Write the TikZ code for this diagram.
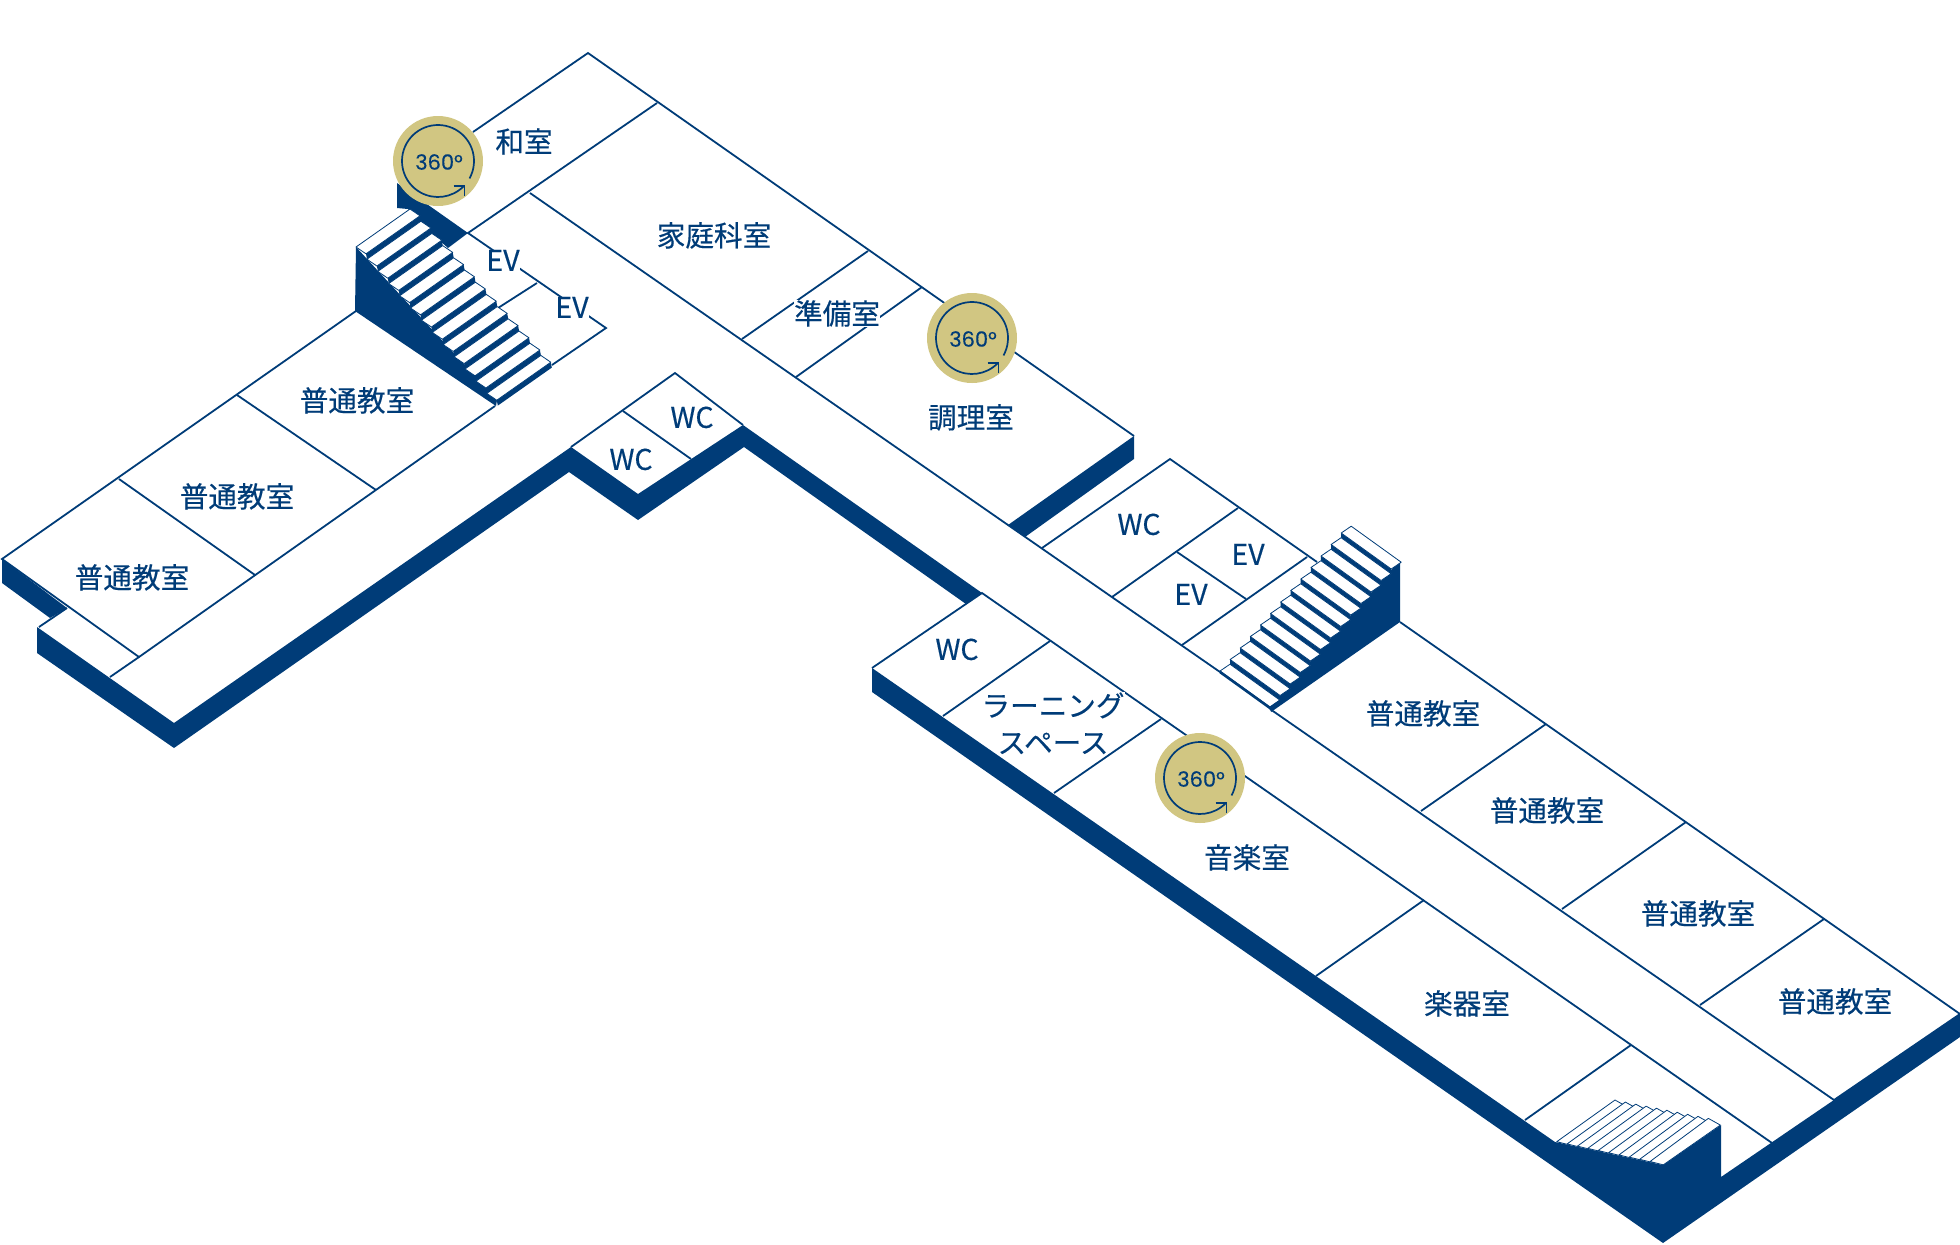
\documentclass[tikz,border=0pt]{standalone}
\usepackage{fontspec}
\setmainfont[RawFeature={embolden=0.35}]{Noto Sans CJK JP}
\newfontfamily\badgefont[RawFeature={embolden=0.35}]{Poppins}
\usepackage{tikz}
\definecolor{floornavy}{HTML}{003C78}
\definecolor{badgegold}{HTML}{D1C682}

% 360 degree badge: name, x, y
\newcommand{\panobadge}[3]{
	\begin{scope}[shift={(#2,#3)}]
	\fill[badgegold] (0,0) circle[radius=45];
	\draw[ring] (29:36) arc[start angle=29, end angle=-315, radius=36];
	\draw[ring] (15.5,25) -- (26.5,25) -- (26.5,35);
	\node[badgetext] (#1) at (1,1) {360°};
	\end{scope}
}

\begin{document}
\begin{tikzpicture}[
            x = 0.5pt,
            y = -0.5pt,
            line join = miter
        ]

        \tikzstyle{wall}=[draw = floornavy, line width = 0.9pt]
        \tikzstyle{ring}=[draw = floornavy, line width = 0.85pt]
        \tikzstyle{slab}=[fill = floornavy]
        \tikzstyle{tread}=[draw = floornavy, line width = 0.4pt, fill = white, line join = round]
        \tikzstyle{room}=[text = floornavy, font = \fontsize{14.3pt}{14.3pt}\selectfont, inner sep = 0pt, yshift = -0.2pt]
        \tikzstyle{masked}=[room, fill = white]
        \tikzstyle{badgetext}=[text = floornavy, font = \badgefont\fontsize{10.5pt}{10.5pt}\selectfont, inner sep = 0pt]

        \useasboundingbox (0,0) rectangle (1960,1244);

	% DARK EDGES OF THE FLOOR SLAB
        \fill[slab] (2,559) -- (2,583) -- (50,618) -- (67,608) -- cycle;
        \fill[slab] (37,627) -- (37,653) -- (174,748) -- (569,472) -- (638,520) -- (744,447) -- (966,604) -- (982,593) -- (743,425) -- (638,494) -- (571,447) -- (174,723) -- cycle;
        \fill[slab] (1134,436) -- (1134,459) -- (1025,537) -- (1008,525) -- cycle;
        \fill[slab] (872,668) -- (1555,1142) -- (1663,1165) -- (1721,1125) -- (1721,1177) -- (1960,1014) -- (1960,1037) -- (1663,1243) -- (872,692) -- cycle;
        \fill[slab] (397,183) -- (468,233) -- (448,248) -- (430,232) -- (408,209) -- (397,208) -- cycle;

	% TOP WING
        \draw[wall] (473,132) -- (588,53) -- (1134,436);
        \draw[wall] (657,103) -- (468,233) -- (606,328) -- (552,365);
        \draw[wall] (530,193) -- (1008,525) -- (1220,672);
        \draw[wall] (868,251) -- (742,339);
        \draw[wall] (922,287) -- (796,377);
        \draw[wall] (537,283) -- (498,308);

	% LEFT WING
        \draw[wall] (356,311) -- (2,559) -- (139,657) -- (495,406);
        \draw[wall] (39,627) -- (67,608);
        \draw[wall] (110,677) -- (139,657);
        \draw[wall] (237,395) -- (376,490);
        \draw[wall] (119,479) -- (255,575);

	% TOILETS IN THE NOTCH
        \draw[wall] (571,447) -- (675,373) -- (743,425);
        \draw[wall] (623,411) -- (691,459);

	% RIGHT WING
        \draw[wall] (1042,548) -- (1170,459) -- (1317,562);
        \draw[wall] (1112,597) -- (1238,508);
        \draw[wall] (1182,645) -- (1307,557);
        \draw[wall] (1177,552) -- (1246,599);
        \draw[wall] (1400,622) -- (1960,1014) -- (1834,1100) -- (1270,709);
        \draw[wall] (1546,724) -- (1421,811);
        \draw[wall] (1686,822) -- (1562,909);
        \draw[wall] (1824,919) -- (1700,1005);

	% LOWER WING
        \draw[wall] (872,668) -- (982,593) -- (1772,1143);
        \draw[wall] (1050,641) -- (943,716);
        \draw[wall] (1161,719) -- (1054,793);
        \draw[wall] (1424,900) -- (1316,976);
        \draw[wall] (1631,1045) -- (1525,1120);

	% STAIRS BESIDE THE JAPANESE ROOM
        \fill[slab] (356,247) -- (355,311) -- (496,406) -- (497,400) -- cycle;
        \foreach \i in {0,...,12} {
            \fill[slab] ({356+10.9*\i+10},{247+12.2*\i+6.8}) -- ++(54,-38) -- ++(1,5.4) -- ++(-54,38) -- cycle;
            \draw[tread] ({356+10.9*\i},{247+12.2*\i}) -- ++(54,-38) -- ++(10,6.8) -- ++(-54,38) -- cycle;
        }

	% STAIRS IN THE RIGHT WING
        \fill[slab] (1392,569) -- (1400,562) -- (1400,622) -- (1271,712) -- (1270,707) -- cycle;
        \foreach \i in {0,...,12} {
            \pgfmathsetmacro{\stepx}{1220+10.1*\i}
            \pgfmathsetmacro{\stepy}{671-11.5*\i}
            \ifnum\i<12
                \fill[slab] ({\stepx+10},{\stepy-6.8}) -- ++(50,36) -- ++(0,-4.7) -- ++(-50,-36) -- cycle;
            \fi
            \draw[tread] (\stepx,\stepy) -- ++(10,-6.8) -- ++(50,36) -- ++(-10,6.8) -- cycle;
        }
        \draw[floornavy, line width = 1.3pt] (1220,672) -- (1270,708) -- (1280,701);

	% STAIRS AT THE END OF THE LOWER WING
        \foreach \i in {0,...,9} {
            \draw[tread] ({1556.7+10.37*\i},{1141.7+2.2*\i}) -- ({1615+10.37*\i},{1100+2.04*\i}) -- ++(12,6.7) -- ({1570+10.37*\i},{1145+2.2*\i}) -- cycle;
        }

	% ROOM NAMES
        \node[room] (washitsu) at (524,141) {和室};
        \node[room] (katei) at (714,235) {家庭科室};
        \node[masked] (junbi) at (837,313) {準備室};
        \node[room] (chouri) at (971,417) {調理室};
        \node[masked] (evA) at (503,260) {EV};
        \node[masked] (evB) at (572,307) {EV};
        \node[room] (classA) at (357,400) {普通教室};
        \node[room] (classB) at (237,496) {普通教室};
        \node[room] (classC) at (132,577) {普通教室};
        \node[room] (wcA) at (692,417) {WC};
        \node[room] (wcB) at (631,459) {WC};
        \node[room] (wcC) at (1139,524) {WC};
        \node[room] (evC) at (1248,554) {EV};
        \node[room] (evD) at (1191,594) {EV};
        \node[room] (wcD) at (957,649) {WC};
        \node[masked] (learnA) at (1053,705) {ラーニング};
        \node[masked] (learnB) at (1053,743) {スペース};
        \node[room] (ongaku) at (1247,857) {音楽室};
        \node[room] (gakki) at (1467,1003) {楽器室};
        \node[room] (classD) at (1423,713) {普通教室};
        \node[room] (classE) at (1547,810) {普通教室};
        \node[room] (classF) at (1698,913) {普通教室};
        \node[room] (classG) at (1835,1001) {普通教室};

	% 360 BADGES
        \panobadge{panoA}{438}{161}
        \panobadge{panoB}{972}{338}
        \panobadge{panoC}{1200}{778}

  \end{tikzpicture}
\end{document}
